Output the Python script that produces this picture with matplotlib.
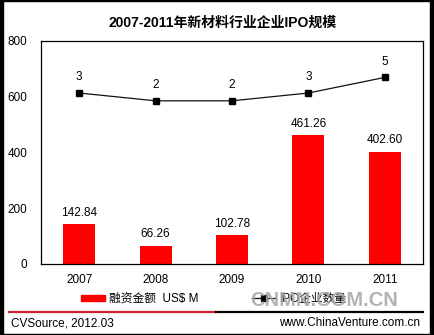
import matplotlib
matplotlib.use("Agg")
import matplotlib.pyplot as plt
from matplotlib.lines import Line2D
from matplotlib.patches import Patch, Rectangle
import numpy as np

plt.rcParams['font.family'] = ['Liberation Sans', 'Noto Sans CJK SC']

# IPO size of new-material companies, 2007-2011
years = ['2007', '2008', '2009', '2010', '2011']
amount = [142.84, 66.26, 102.78, 461.26, 402.60]   # US$ M
ipo_count = [3, 2, 2, 3, 5]

W, H = 435, 335
fig = plt.figure(figsize=(W / 100, H / 100), dpi=100)
ax = fig.add_axes([41 / W, 1 - 264 / H, (423 - 41) / W, (264 - 40.7) / H])

x = np.arange(len(years))
ax.bar(x, amount, width=0.42, color='#ff0000', zorder=2)
for xi, v in zip(x, amount):
    ax.annotate(f'{v:.2f}', (xi, v), xytext=(0, 4), textcoords='offset points',
                ha='center', va='bottom', fontsize=8.5)

ax.set_xlim(-0.5, len(years) - 0.5)
ax.set_ylim(0, 800)
ax.set_yticks([0, 200, 400, 600, 800])
ax.set_xticks(x)
ax.set_xticklabels(years)
ax.tick_params(length=0, labelsize=8.5, pad=7)
ax.tick_params(axis='y', pad=10)
for s in ax.spines.values():
    s.set_linewidth(0.9)

# count of IPOs on a hidden second scale
ax2 = ax.twinx()
ax2.plot(x, ipo_count, color='#111111', lw=0.9, marker='s', ms=4.5,
         mfc='black', mec='black', zorder=3)
for xi, v in zip(x, ipo_count):
    ax2.annotate(str(v), (xi, v), xytext=(0, 7), textcoords='offset points',
                 ha='center', va='bottom', fontsize=8.5)
ax2.set_ylim(-18.9, 9.7)
ax2.set_yticks([])
for s in ax2.spines.values():
    s.set_visible(False)

fig.text(223 / W, 1 - 22.5 / H, '2007-2011年新材料行业企业IPO规模', ha='center', va='center',
         fontsize=10, fontweight='bold')

handles = [Patch(color='#ff0000'),
           Line2D([], [], color='#111111', lw=0.9, marker='s', ms=4.5, mfc='black')]
fig.legend(handles, ['融资金额  US$ M', 'IPO企业数量'], loc='center',
           bbox_to_anchor=(214 / W, 1 - 299 / H), ncol=2, frameon=False,
           fontsize=8.5, handlelength=2.0, handleheight=0.35, handletextpad=0.3,
           columnspacing=4.6)

# watermark sits over the second legend entry
fig.text(324 / W, 1 - 301 / H, 'CNMN.COM.CN', ha='center', va='center',
         fontsize=14.5, fontweight='bold', color='#a6a6a6', alpha=0.85, zorder=10)

# footer rule and source lines
fig.add_artist(Line2D([9 / W, 216 / W], [1 - 311.7 / H] * 2, color='#cc1f2f', lw=1.6))
fig.add_artist(Line2D([216 / W, 423 / W], [1 - 311.7 / H] * 2, color='black', lw=1.6))
fig.text(11 / W, 1 - 323 / H, 'CVSource, 2012.03', ha='left', va='center', fontsize=8.5)
fig.text(420 / W, 1 - 323 / H, 'www.ChinaVenture.com.cn', ha='right', va='center', fontsize=8.5)

# outer frame
fig.add_artist(Rectangle((0, 0), 3 / W, 1, transform=fig.transFigure, color='black'))
fig.add_artist(Rectangle((430 / W, 0), 5 / W, 1, transform=fig.transFigure, color='black'))
fig.add_artist(Rectangle((0, 0), 1, 1.5 / H, transform=fig.transFigure, color='black'))
fig.add_artist(Rectangle((0, 1 - 1.2 / H), 1, 1.2 / H, transform=fig.transFigure, color='black'))

fig.savefig('out.png', dpi=100)
